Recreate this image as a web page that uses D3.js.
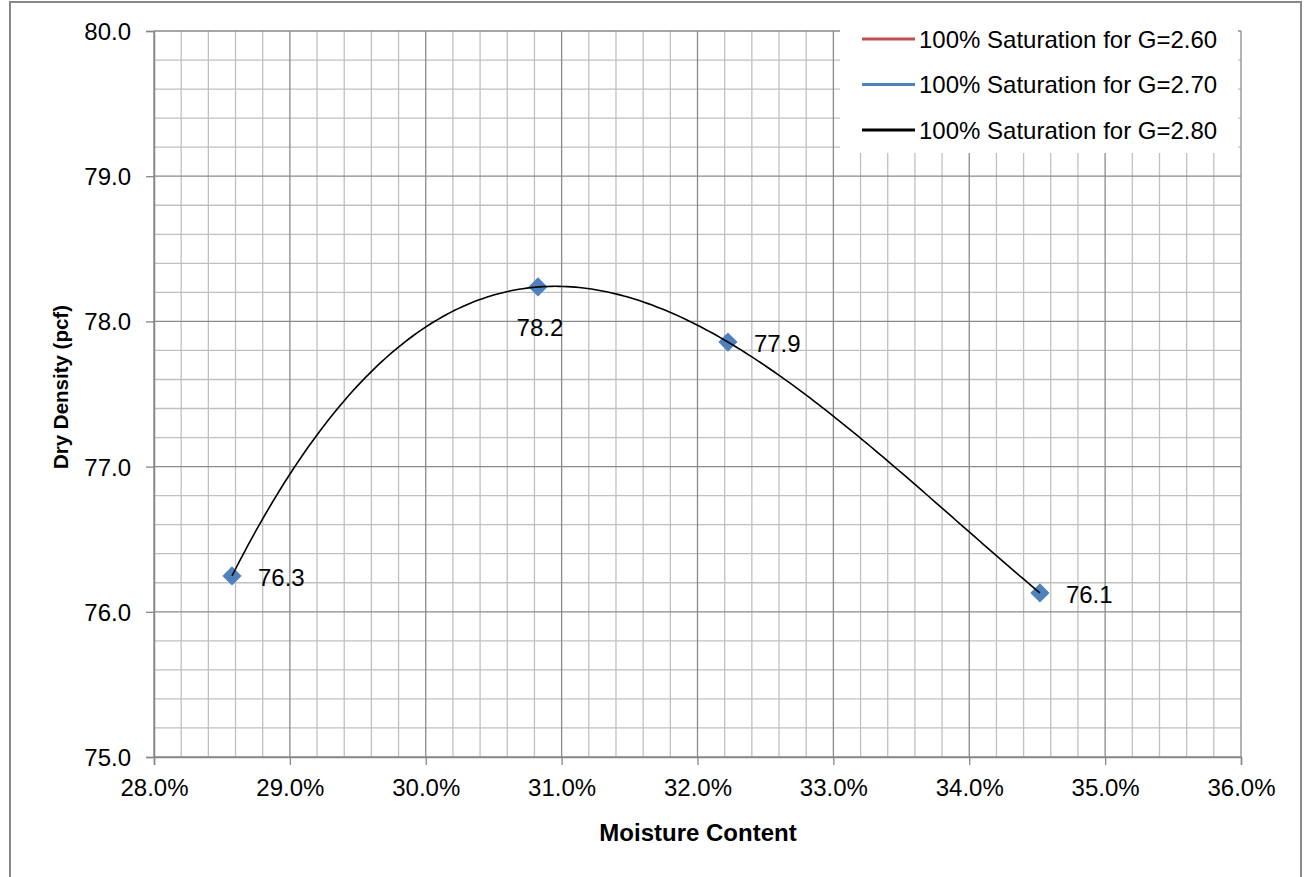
<!DOCTYPE html>
<html>
<head>
<meta charset="utf-8">
<script src="https://cdn.jsdelivr.net/npm/d3@7"></script>
<style>
  html, body { margin: 0; padding: 0; background: #fff; }
  svg { display: block; font-family: "Liberation Sans", Arial, sans-serif; }
</style>
</head>
<body>
<svg id="chart" width="1307" height="877"></svg>
<script>
// ---- data ----
const moisture = [28.574, 30.826, 32.224, 34.52];   // %
const dryDensity = [76.247, 78.237, 77.858, 76.13]; // pcf
const pointLabels = ["76.3", "78.2", "77.9", "76.1"];
const labelBelow = [false, true, false, false];
const xTicks = [28, 29, 30, 31, 32, 33, 34, 35, 36];
const yTicks = [75, 76, 77, 78, 79, 80];
const legendNames = ["100% Saturation for G=2.60", "100% Saturation for G=2.70", "100% Saturation for G=2.80"];
const legendColors = ["#C0504D", "#4F81BD", "#000000"];
const trendOrder = 3; // polynomial trendline order (as in the spreadsheet chart)

const svg = d3.select("#chart");
const x = d3.scaleLinear().domain([28, 36]).range([154, 1241]);
const y = d3.scaleLinear().domain([75, 80]).range([757, 31]);
const FS = "24px";

// outer chart border
svg.append("rect").attr("x", 10).attr("y", 2).attr("width", 1291).attr("height", 900)
  .attr("fill", "#fff").attr("stroke", "#898989").attr("stroke-width", 2);

// minor gridlines
const xMinor = d3.range(28, 36.001, 0.2).filter(v => Math.abs(v - Math.round(v)) > 1e-6);
const yMinor = d3.range(75, 80.001, 0.2).filter(v => Math.abs(v - Math.round(v)) > 1e-6);
const grid = svg.append("g");
grid.selectAll(".xm").data(xMinor).join("line")
  .attr("x1", d => x(d)).attr("x2", d => x(d)).attr("y1", y(80)).attr("y2", y(75))
  .attr("stroke", "#c0c0c0").attr("stroke-width", 1.3);
grid.selectAll(".ym").data(yMinor).join("line")
  .attr("x1", x(28)).attr("x2", x(36)).attr("y1", d => y(d)).attr("y2", d => y(d))
  .attr("stroke", "#c0c0c0").attr("stroke-width", 1.3);
// major gridlines
grid.selectAll(".xM").data(xTicks).join("line")
  .attr("x1", d => x(d)).attr("x2", d => x(d)).attr("y1", y(80)).attr("y2", y(75))
  .attr("stroke", "#8a8a8a").attr("stroke-width", 1.3);
grid.selectAll(".yM").data(yTicks).join("line")
  .attr("x1", x(28)).attr("x2", x(36)).attr("y1", d => y(d)).attr("y2", d => y(d))
  .attr("stroke", "#8a8a8a").attr("stroke-width", 1.3);

// axes
const xAxis = svg.append("g").attr("transform", `translate(0,${y(75)})`)
  .call(d3.axisBottom(x).tickValues(xTicks).tickSize(8).tickPadding(14)
    .tickFormat(d => d3.format(".1f")(d) + "%"));
const yAxis = svg.append("g").attr("transform", `translate(${x(28)},0)`)
  .call(d3.axisLeft(y).tickValues(yTicks).tickSize(8).tickPadding(15)
    .tickFormat(d3.format(".1f")));
[xAxis, yAxis].forEach(a => {
  a.select(".domain").attr("stroke", "#868686").attr("stroke-width", 1.5);
  a.selectAll(".tick line").attr("stroke", "#868686").attr("stroke-width", 1.3);
  a.selectAll("text").attr("fill", "#000").style("font-size", FS)
    .style("font-family", "'Liberation Sans', Arial, sans-serif");
});
yAxis.selectAll("text").attr("dy", "0.35em");

// legend box (covers gridlines)
const leg = svg.append("g");
leg.append("rect").attr("x", 840).attr("y", 27).attr("width", 398).attr("height", 126).attr("fill", "#fff");
const legRows = leg.selectAll(".row").data(legendNames).join("g")
  .attr("transform", (d, i) => `translate(0,${39 + i * 45.5})`);
legRows.append("line").attr("x1", 862).attr("x2", 915).attr("y1", 0).attr("y2", 0)
  .attr("stroke", (d, i) => legendColors[i]).attr("stroke-width", 3);
legRows.append("text").attr("x", 919).attr("y", 0).attr("dy", "0.36em")
  .style("font-size", FS).attr("fill", "#000").text(d => d);

// data markers
const pts = moisture.map((m, i) => [m, dryDensity[i]]);
svg.append("g").selectAll("rect").data(pts).join("rect")
  .attr("x", -6.8).attr("y", -6.8).attr("width", 13.6).attr("height", 13.6)
  .attr("fill", "#4F81BD")
  .attr("transform", d => `translate(${x(d[0])},${y(d[1])}) rotate(45)`);

// polynomial trendline fitted (least squares) to the data points
function polyFit(xs, ys, order) {
  const n = order + 1, x0 = d3.mean(xs);
  const A = Array.from({length: n}, () => new Array(n + 1).fill(0));
  xs.forEach((xv, k) => {
    const u = xv - x0;
    for (let i = 0; i < n; i++) {
      for (let j = 0; j < n; j++) A[i][j] += Math.pow(u, i + j);
      A[i][n] += ys[k] * Math.pow(u, i);
    }
  });
  for (let c = 0; c < n; c++) {
    let p = c;
    for (let r = c + 1; r < n; r++) if (Math.abs(A[r][c]) > Math.abs(A[p][c])) p = r;
    [A[c], A[p]] = [A[p], A[c]];
    for (let r = 0; r < n; r++) {
      if (r === c) continue;
      const f = A[r][c] / A[c][c];
      for (let j = c; j <= n; j++) A[r][j] -= f * A[c][j];
    }
  }
  const coef = A.map((row, i) => row[n] / row[i]);
  return xv => coef.reduce((s, c, i) => s + c * Math.pow(xv - x0, i), 0);
}
const trend = polyFit(moisture, dryDensity, trendOrder);
const [xMin, xMax] = d3.extent(moisture);
const trendPts = d3.range(0, 201).map(i => {
  const xv = xMin + (xMax - xMin) * i / 200;
  return [xv, trend(xv)];
});
const line = d3.line().x(d => x(d[0])).y(d => y(d[1]));
svg.append("path").datum(trendPts).attr("d", line)
  .attr("fill", "none").attr("stroke", "#000").attr("stroke-width", 1.6);

// data labels
svg.append("g").selectAll("text").data(pts).join("text")
  .attr("x", (d, i) => labelBelow[i] ? x(d[0]) + 2 : x(d[0]) + 26)
  .attr("y", (d, i) => labelBelow[i] ? y(d[1]) + 40 : y(d[1]) + 1)
  .attr("dy", "0.36em")
  .attr("text-anchor", (d, i) => labelBelow[i] ? "middle" : "start")
  .style("font-size", FS).attr("fill", "#000")
  .text((d, i) => pointLabels[i]);

// axis titles
svg.append("text").attr("x", 698).attr("y", 832).attr("dy", "0.36em")
  .attr("text-anchor", "middle").style("font-size", FS).style("font-weight", "bold")
  .text("Moisture Content");
svg.append("text").attr("transform", "translate(61,387) rotate(-90)").attr("dy", "0.36em")
  .attr("text-anchor", "middle").style("font-size", "20.5px").style("font-weight", "bold")
  .text("Dry Density (pcf)");
</script>
</body>
</html>
